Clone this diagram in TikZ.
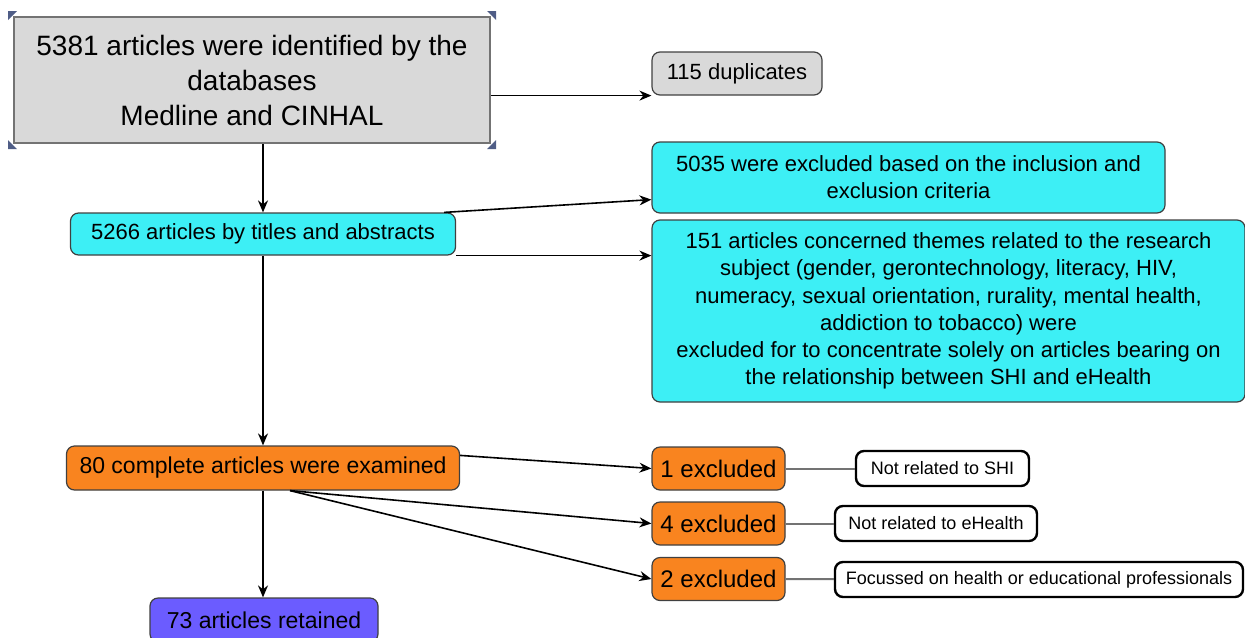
\documentclass[tikz,border=0pt]{standalone}
\usepackage{fontspec}
\setmainfont{Liberation Sans}
\usetikzlibrary{arrows.meta,calc}
\definecolor{boxgray}{HTML}{D9D9D9}
\definecolor{boxcyan}{HTML}{3DEFF5}
\definecolor{boxorange}{HTML}{F9841F}
\definecolor{boxviolet}{HTML}{6B5CFF}
\definecolor{handlecol}{HTML}{4F5D86}
\begin{document}
\begin{tikzpicture}[x=0.5pt,y=-0.5pt,
    box/.style={draw=black!75,line width=0.6pt,rounded corners=4pt,align=center,
      inner sep=0pt,font=\fontsize{11}{13.6}\selectfont},
    note/.style={draw=black,line width=1.2pt,rounded corners=4pt,fill=white,
      align=center,inner sep=0pt,font=\fontsize{9}{11}\selectfont},
    link/.style={-{Stealth[length=6pt,width=5pt]},line width=0.8pt},
    tie/.style={draw=black!55,line width=1pt},
    handle/.style={fill=handlecol}]
  \useasboundingbox (0,0) rectangle (1245,637);
  % identification
  \node[draw=black!55,line width=1pt,fill=boxgray,align=center,inner sep=0pt,
        minimum width=238pt,minimum height=63pt,
        font=\fontsize{14}{17.5}\selectfont] (ident) at (252,80)
        {5381 articles were identified by the\\databases\\Medline and CINHAL};
  \foreach \c/\sx/\sy in {north west/1/1,north east/-1/1,south west/1/-1,south east/-1/-1}
    \fill[handle] (ident.\c) ++(-5*\sx,-5*\sy) -- ++(9*\sx,0) -- ++(-9*\sx,9*\sy) -- cycle;
  \node[box,fill=boxgray,minimum width=85pt,minimum height=21.5pt] (dup) at (737,73.5)
        {115 duplicates};
  % screening
  \node[box,fill=boxcyan,minimum width=192.5pt,minimum height=21pt] (screen) at (263,234)
        {5266 articles by titles and abstracts};
  \node[box,fill=boxcyan,minimum width=256.5pt,minimum height=35.5pt] (crit) at (908.5,177.5)
        {5035 were excluded based on the inclusion and\\exclusion criteria};
  \node[box,fill=boxcyan,minimum width=296.5pt,minimum height=91pt] (themes) at (948.5,311)
        {151 articles concerned themes related to the research\\
         subject (gender, gerontechnology, literacy, HIV,\\
         numeracy, sexual orientation, rurality, mental health,\\
         addiction to tobacco) were\\
         excluded for to concentrate solely on articles bearing on\\
         the relationship between SHI and eHealth};
  % eligibility
  \node[box,fill=boxorange,minimum width=196.5pt,minimum height=22pt,
        font=\fontsize{11.5}{14}\selectfont] (full) at (263,468)
        {80 complete articles were examined};
  \foreach \n/\k/\y in {1/a/468.5,4/b/523.5,2/c/579}
    \node[box,fill=boxorange,minimum width=66.5pt,minimum height=21.5pt,
          font=\fontsize{12}{14}\selectfont] (ex\k) at (718.5,\y) {\n~excluded};
  \node[note,minimum width=86.5pt,minimum height=17.5pt] (why1) at (942.5,468.5)
        {Not related to SHI};
  \node[note,minimum width=101pt,minimum height=17.5pt] (why2) at (936,523.5)
        {Not related to eHealth};
  \node[note,minimum width=204pt,minimum height=17.5pt] (why3) at (1039,579.5)
        {Focussed on health or educational professionals};
  % inclusion
  \node[box,fill=boxviolet,minimum width=114pt,minimum height=22pt,
        font=\fontsize{11.5}{14}\selectfont] (kept) at (264,620)
        {73 articles retained};
  % connectors
  \coordinate (fork) at ($(full.south)+(27,0)$);
  \draw[link] (ident.east |- dup.south) -- (dup.south west);
  \draw[link] (screen.north |- ident.south) -- (screen.north);
  \draw[link] ($(screen.north east)+(-12,0)$) -- ($(crit.south west)+(0,-14)$);
  \draw[link] (screen.south east) -- (themes.west |- screen.south east);
  \draw[link] (screen.south) -- (full.north);
  \draw[link] ($(full.north east)+(0,10)$) -- (exa.west);
  \draw[link] (fork) -- (exb.west);
  \draw[link] (fork) -- (exc.west);
  \draw[link] (full.south) -- (kept.north -| full.south);
  \draw[tie] (exa) -- (why1);
  \draw[tie] (exb) -- (why2);
  \draw[tie] (exc) -- (why3);
\end{tikzpicture}
\end{document}
